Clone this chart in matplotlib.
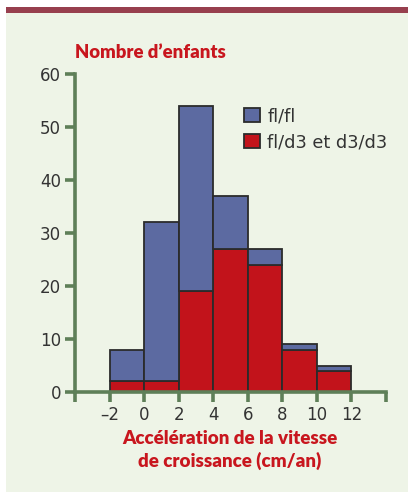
import matplotlib.pyplot as plt
from matplotlib.patches import Rectangle, Patch
from matplotlib import font_manager

# bins of growth velocity acceleration (cm/an)
bin_edges = [-2, 0, 2, 4, 6, 8, 10, 12]
count_d3 = [2, 2, 19, 27, 24, 8, 4]       # fl/d3 et d3/d3
count_flfl = [6, 30, 35, 10, 3, 1, 1]     # fl/fl, stacked on top

x_ticks = [-4, -2, 0, 2, 4, 6, 8, 10, 12, 14]
x_labels = ['', '\u20132', '0', '2', '4', '6', '8', '10', '12', '']
y_ticks = [0, 10, 20, 30, 40, 50, 60]

BLUE = '#5C6AA1'
RED = '#C2131B'
EDGE = '#2B2B2B'
AXIS = '#5E7F58'
TITLE_RED = '#C8161E'
BG = '#EEF4E7'

names = {f.name for f in font_manager.fontManager.ttflist}
tick_font = 'Liberation Sans Narrow' if 'Liberation Sans Narrow' in names else 'DejaVu Sans'
title_font = 'Lato' if 'Lato' in names else 'DejaVu Sans'

W, H = 408, 492
fig = plt.figure(figsize=(W / 100, H / 100), dpi=100)
fig.patch.set_facecolor('white')

# green panel and top band
fig.patches.append(Rectangle((6 / W, 0), 1, (H - 13) / H, transform=fig.transFigure,
                             facecolor=BG, edgecolor='none', zorder=-5))
fig.patches.append(Rectangle((6 / W, (H - 13) / H), 1, 6 / H, transform=fig.transFigure,
                             facecolor='#973F4E', edgecolor='none', zorder=-5))

ax = fig.add_axes([75 / W, (H - 392) / H, 311 / W, 318 / H])
ax.set_facecolor('none')
ax.set_zorder(2)

lefts = bin_edges[:-1]
widths = [b - a for a, b in zip(bin_edges[:-1], bin_edges[1:])]
ax.bar(lefts, count_d3, width=widths, align='edge', color=RED, edgecolor=EDGE, linewidth=1.3, zorder=2)
ax.bar(lefts, count_flfl, width=widths, bottom=count_d3, align='edge', color=BLUE,
       edgecolor=EDGE, linewidth=1.3, zorder=2)

ax.set_xlim(-4, 14)
ax.set_ylim(0, 60)
for s in ['top', 'right']:
    ax.spines[s].set_visible(False)
for s in ['left', 'bottom']:
    ax.spines[s].set_color(AXIS)
    ax.spines[s].set_linewidth(2.6)
    ax.spines[s].set_zorder(3)

ax.set_xticks(x_ticks)
ax.set_xticklabels(x_labels)
ax.set_yticks(y_ticks)
ax.tick_params(axis='both', direction='out', length=7, width=2.6, color=AXIS,
               labelsize=12, labelcolor='#333333', pad=3)
for lab in ax.get_xticklabels() + ax.get_yticklabels():
    lab.set_fontfamily(tick_font)

handles = [Patch(facecolor=BLUE, edgecolor=EDGE, linewidth=1.3, label='fl/fl'),
           Patch(facecolor=RED, edgecolor=EDGE, linewidth=1.3, label='fl/d3 et d3/d3')]
leg = ax.legend(handles=handles, loc='upper left', bbox_to_anchor=((237 - 75) / 311, (392 - 100) / 318),
                frameon=False, handlelength=0.9, handleheight=0.9, handletextpad=0.4,
                labelspacing=0.45, borderaxespad=0,
                prop={'family': tick_font, 'size': 12.8})
for t in leg.get_texts():
    t.set_color('#333333')

fig.text(75 / W, 1 - 52 / H, 'Nombre d\u2019enfants', ha='left', va='center',
         fontsize=13.3, fontweight='heavy', color=TITLE_RED, family=title_font)
fig.text(230 / W, 1 - 438 / H, 'Accélération de la vitesse', ha='center', va='center',
         fontsize=13.5, fontweight='heavy', color=TITLE_RED, family=title_font)
fig.text(230 / W, 1 - 461 / H, 'de croissance (cm/an)', ha='center', va='center',
         fontsize=13.5, fontweight='heavy', color=TITLE_RED, family=title_font)

fig.savefig('out.png', dpi=100, facecolor=fig.get_facecolor())
